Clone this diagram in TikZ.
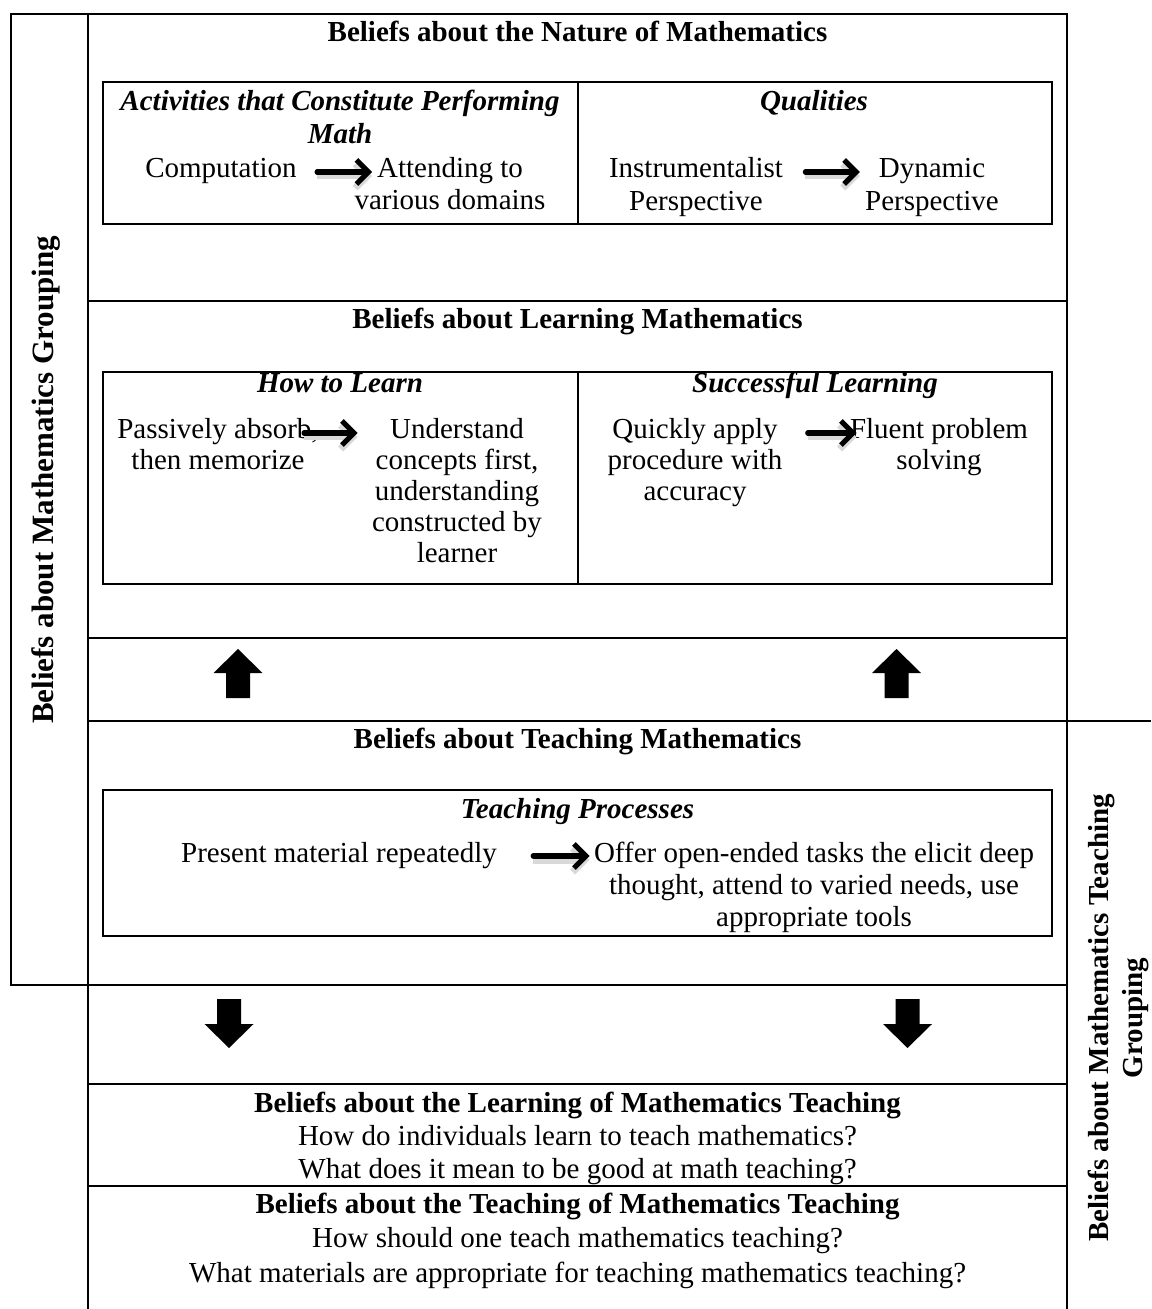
\documentclass[tikz,border=0pt]{standalone}
\usepackage{fontspec}
\setmainfont{Liberation Serif}
\usetikzlibrary{arrows.meta,calc}
\newcommand\mlines[2][16]{{\fontsize{14.5}{#1}\selectfont\begin{tabular}[t]{@{}c@{}}#2\end{tabular}}}
\begin{document}
\begin{tikzpicture}[x=0.5pt,y=-0.5pt,
  frame/.style={line width=1.4pt},
  txt/.style={anchor=base,inner sep=0pt,font=\fontsize{14.5}{16}\selectfont},
  bf/.style={txt,font=\fontsize{14.5}{16}\selectfont\bfseries},
  bfit/.style={txt,font=\fontsize{14.5}{16}\selectfont\bfseries\itshape},
  harrow/.style={line width=2.6pt,-{Straight Barb[length=6pt,width=12pt]},line cap=round,line join=round,
    preaction={draw=black!15,line width=3.5pt,transform canvas={yshift=-2pt}}},
  uparrow/.pic={\fill[black] (0,-24) -- (24.5,0) -- (12,0) -- (12,25) -- (-12,25) -- (-12,0) -- (-24.5,0) -- cycle;},
  downarrow/.pic={\fill[black] (0,24) -- (24.5,0) -- (12,0) -- (12,-25) -- (-12,-25) -- (-12,0) -- (-24.5,0) -- cycle;}
]
\fill[white] (0,0) rectangle (1151,1309);
\useasboundingbox (0,0) rectangle (1151,1309);

% frames
\draw[frame] (11,14) rectangle (1067,985);
\draw[frame] (88,14) -- (88,1309);
\draw[frame] (1067,985) -- (1067,1309);
\draw[frame] (88,301) -- (1067,301);
\draw[frame] (88,638) -- (1067,638);
\draw[frame] (88,721) -- (1151,721);
\draw[frame] (88,1084) -- (1067,1084);
\draw[frame] (88,1186) -- (1067,1186);

% inner boxes
\draw[frame] (103,82) rectangle (1052,224);
\draw[frame] (578,82) -- (578,224);
\draw[frame] (103,372) rectangle (1052,584);
\draw[frame] (578,372) -- (578,584);
\draw[frame] (103,790) rectangle (1052,936);

% Nature of mathematics
\node[bf] (tNat) at (577.5,42) {Beliefs about the Nature of Mathematics};
\node[bfit] (hAct) at (340,111) {\mlines[16.5]{Activities that Constitute Performing\\Math}};
\node[txt] (comp) at (221,178) {Computation};
\node[txt] (att) at (450,178) {\mlines[16]{Attending to\\various domains}};
\node[bfit] (hQual) at (814,111) {Qualities};
\node[txt] (instr) at (696,178) {\mlines[16.5]{Instrumentalist\\Perspective}};
\node[txt] (dyn) at (932,178) {\mlines[16.5]{Dynamic\\Perspective}};
\draw[harrow] ($(comp.base east)+(20,-6)$) -- ($(comp.base east -| att.west)+(18,-6)$);
\draw[harrow] ($(instr.base east)+(22,-6)$) -- ($(instr.base east -| dyn.west)+(-5,-6)$);

% Learning mathematics
\node[bf] (tLearn) at (577.5,329) {Beliefs about Learning Mathematics};
\node[bfit] (hHow) at (340,393) {How to Learn};
\node[bfit] (hSucc) at (815,393) {Successful Learning};
\node[txt] (pa) at (218,439) {\mlines[15.5]{Passively absorb,\\then memorize}};
\node[txt] (und) at (457,439) {\mlines[15.5]{Understand\\concepts first,\\understanding\\constructed by\\learner}};
\node[txt] (quick) at (695,439) {\mlines[15.5]{Quickly apply\\procedure with\\accuracy}};
\node[txt] (fluent) at (939,439) {\mlines[15.5]{Fluent problem\\solving}};
\draw[harrow] ($(pa.base east)+(-15,-6)$) -- ($(pa.base east -| und.west)+(-14,-6)$);
\draw[harrow] ($(quick.base east)+(25,-6)$) -- ($(quick.base east -| fluent.west)+(7,-6)$);

% block arrows
\pic at (238,673) {uparrow};
\pic at (896.5,673) {uparrow};
\pic at (229,1024) {downarrow};
\pic at (907.5,1024) {downarrow};

% Teaching mathematics
\node[bf] (tTeach) at (577.5,748) {Beliefs about Teaching Mathematics};
\node[bfit] (hTP) at (577.5,818) {Teaching Processes};
\node[txt] (pres) at (339,862) {Present material repeatedly};
\node[txt] (offer) at (814,862) {\mlines[16]{Offer open-ended tasks the elicit deep\\thought, attend to varied needs, use\\appropriate tools}};
\draw[harrow] ($(pres.base east)+(36,-6)$) -- ($(pres.base east -| offer.west)+(-4,-6)$);

% Learning / teaching of mathematics teaching
\node[bf] (tLMT) at (577.5,1112) {Beliefs about the Learning of Mathematics Teaching};
\node[txt] (q1) at (577.5,1145) {How do individuals learn to teach mathematics?};
\node[txt] (q2) at (577.5,1178) {What does it mean to be good at math teaching?};
\node[bf] (tTMT) at (577.5,1213) {Beliefs about the Teaching of Mathematics Teaching};
\node[txt] (q3) at (577.5,1247) {How should one teach mathematics teaching?};
\node[txt] (q4) at (577.5,1282) {What materials are appropriate for teaching mathematics teaching?};

% grouping labels
\node[txt,rotate=90,font=\fontsize{15.5}{17}\selectfont\bfseries] (gMath) at (53,480) {Beliefs about Mathematics Grouping};
\node[bf,rotate=90] (gTeach) at (1108,1018) {\mlines[17]{Beliefs about Mathematics Teaching\\Grouping}};
\end{tikzpicture}
\end{document}
